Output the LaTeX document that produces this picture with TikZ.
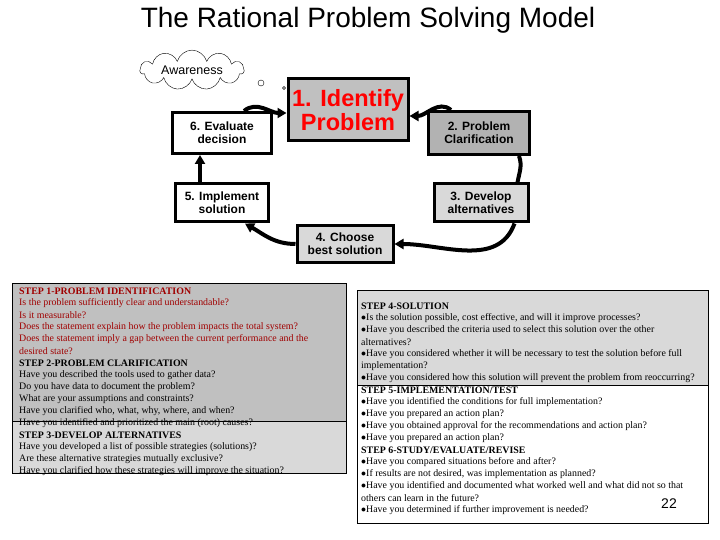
\documentclass[tikz,border=0pt]{standalone}
\usepackage{fontspec}
\setmainfont{Liberation Serif}
\newfontfamily\arial{Liberation Sans}
\usetikzlibrary{shapes.symbols,arrows.meta}
\definecolor{dred}{HTML}{A00000}
\definecolor{g1}{HTML}{C0C0C0}
\definecolor{g2}{HTML}{B2B2B2}
\definecolor{g3}{HTML}{D9D9D9}
\begin{document}
\begin{tikzpicture}[x=1pt,y=-1pt,
  stepbox/.style={draw=black,line width=3pt,align=center,font=\arial\bfseries\fontsize{12}{13}\selectfont,inner sep=0pt},
  flow/.style={line width=4pt,-{Triangle[length=9pt,width=10pt]}},
  tl/.style={anchor=west,inner sep=0pt,font=\fontsize{9.9}{11}\selectfont},
  hd/.style={tl,font=\bfseries\fontsize{9.9}{11}\selectfont},
  tr/.style={tl,text=dred}]
\useasboundingbox (0,0) rectangle (720,540);
\fill[white] (0,0) rectangle (720,540);
\node[font=\arial\fontsize{28}{32}\selectfont] (title) at (368,20) {The Rational Problem Solving Model};
\node[cloud,draw,cloud puffs=11,aspect=4,minimum width=104pt,minimum height=26pt,inner sep=0pt,font=\arial\fontsize{12.5}{13}\selectfont] (aw) at (192,70) {Awareness};
\draw (261,83) circle (3pt) (284,88) circle (1.5pt) (289,92) circle (1pt);
\node[stepbox,fill=g1,minimum width=120pt,minimum height=62pt,text=red,font=\arial\bfseries\fontsize{23.5}{24}\selectfont] (s1) at (348,110) {1. Identify\\Problem};
\node[stepbox,fill=g2,minimum width=101pt,minimum height=43pt] (s2) at (479,133) {2. Problem\\Clarification};
\node[stepbox,fill=g3,minimum width=94pt,minimum height=38pt] (s3) at (481,203) {3. Develop\\alternatives};
\node[stepbox,fill=g3,minimum width=96pt,minimum height=36pt] (s4) at (345,244) {4. Choose\\best solution};
\node[stepbox,fill=white,minimum width=93pt,minimum height=38pt] (s5) at (222,203) {5. Implement\\solution};
\node[stepbox,fill=white,minimum width=99pt,minimum height=41pt] (s6) at (222,133) {6. Evaluate\\decision};
\draw[flow] ([xshift=24pt]s2.north west) to[out=140,in=0] ([yshift=-6pt]s1.east);
\draw[line width=4pt] ([xshift=-12pt]s2.south east) to[out=-70,in=80] ([xshift=-12pt]s3.north east);
\draw[flow] ([xshift=-15pt]s3.south east) to[out=-110,in=0] (s4.east);
\draw[flow] (s4.west) to[out=180,in=-30] ([xshift=-25pt]s5.south east);
\draw[flow] ([xshift=-22pt]s5.north) -- ([xshift=-22pt]s6.south);
\draw[flow] ([xshift=22pt]s6.north) to[out=40,in=180] ([yshift=-3pt]s1.west);
% left text box
\fill[g1] (12,283) rectangle (346,421);
\fill[g3] (12,421) rectangle (346,473);
\draw (12,283) rectangle (346,473);
\draw (12,421) -- (346,421);
\node[hd,text=dred] (a1) at (19,291) {STEP 1-PROBLEM IDENTIFICATION};
\node[tr] (a2) at (19,303) {Is the problem sufficiently clear and understandable?};
\node[tr] (a3) at (19,315) {Is it measurable?};
\node[tr] (a4) at (19,327) {Does the statement explain how the problem impacts the total system?};
\node[tr] (a5) at (19,339) {Does the statement imply a gap between the current performance and the};
\node[tr] (a6) at (19,351) {desired state?};
\node[hd] (a7) at (19,363) {STEP 2-PROBLEM CLARIFICATION};
\node[tl] (a8) at (19,375) {Have you described the tools used to gather data?};
\node[tl] (a9) at (19,387) {Do you have data to document the problem?};
\node[tl] (a10) at (19,399) {What are your assumptions and constraints?};
\node[tl] (a11) at (19,411) {Have you clarified who, what, why, where, and when?};
\node[tl] (a12) at (19,423) {Have you identified and prioritized the main (root) causes?};
\node[hd] (a13) at (19,435) {STEP 3-DEVELOP ALTERNATIVES};
\node[tl] (a14) at (19,447) {Have you developed a list of possible strategies (solutions)?};
\node[tl] (a15) at (19,459) {Are these alternative strategies mutually exclusive?};
\node[tl] (a16) at (19,471) {Have you clarified how these strategies will improve the situation?};
% right text box
\fill[g3] (357,290) rectangle (708,385);
\draw (357,290) rectangle (708,523);
\draw (357,385) -- (708,385);
\node[hd] (b1) at (361,306) {STEP 4-SOLUTION};
\node[tl] (b2) at (361,318) {$\bullet$Is the solution possible, cost effective, and will it improve processes?};
\node[tl] (b3) at (361,330) {$\bullet$Have you described the criteria used to select this solution over the other};
\node[tl] (b4) at (361,342) {alternatives?};
\node[tl] (b5) at (361,354) {$\bullet$Have you considered whether it will be necessary to test the solution before full};
\node[tl] (b6) at (361,366) {implementation?};
\node[tl] (b7) at (361,378) {$\bullet$Have you considered how this solution will prevent the problem from reoccurring?};
\node[hd] (b8) at (361,390) {STEP 5-IMPLEMENTATION/TEST};
\node[tl] (b9) at (361,402) {$\bullet$Have you identified the conditions for full implementation?};
\node[tl] (b10) at (361,414) {$\bullet$Have you prepared an action plan?};
\node[tl] (b11) at (361,426) {$\bullet$Have you obtained approval for the recommendations and action plan?};
\node[tl] (b12) at (361,438) {$\bullet$Have you prepared an action plan?};
\node[hd] (b13) at (361,450) {STEP 6-STUDY/EVALUATE/REVISE};
\node[tl] (b14) at (361,462) {$\bullet$Have you compared situations before and after?};
\node[tl] (b15) at (361,474) {$\bullet$If results are not desired, was implementation as planned?};
\node[tl] (b16) at (361,486) {$\bullet$Have you identified and documented what worked well and what did not so that};
\node[tl] (b17) at (361,498) {others can learn in the future?};
\node[tl] (b18) at (361,510) {$\bullet$Have you determined if further improvement is needed?};
\node[font=\arial\fontsize{14}{15}\selectfont] (pg) at (669,504) {22};
\end{tikzpicture}
\end{document}
